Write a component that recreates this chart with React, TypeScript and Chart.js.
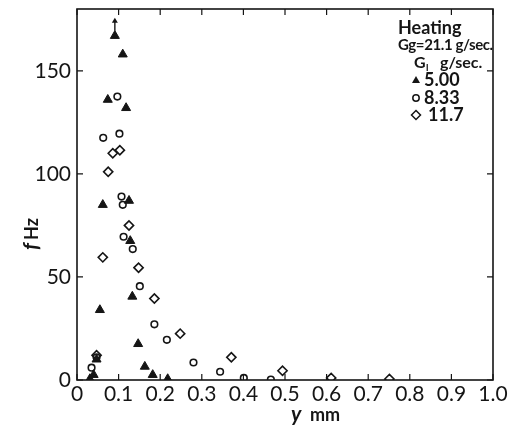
import React, { useEffect, useRef } from "react";
import { Chart, registerables } from "chart.js";

Chart.register(...registerables);

// Axis ticks
const xTicks = [0, 0.1, 0.2, 0.3, 0.4, 0.5, 0.6, 0.7, 0.8, 0.9, 1.0];
const xTickLabels = ["0", "0.1", "0.2", "0.3", "0.4", "0.5", "0.6", "0.7", "0.8", "0.9", "1.0"];
const yTicks = [0, 50, 100, 150];

// G_l = 5.00 g/sec (filled triangles)
const tri_y = [0.031, 0.040, 0.047, 0.055, 0.062, 0.074, 0.091, 0.110, 0.118, 0.125, 0.128, 0.133, 0.147, 0.163, 0.182, 0.218];
const tri_f = [0.5, 2.5, 10, 34, 85, 136, 167, 158, 132, 87, 67.5, 40.5, 17.5, 6.5, 2.5, 0.5];
const arrowIndex = 6; // point with the "greater than" arrow

// G_l = 8.33 g/sec (open circles)
const circ_y = [0.035, 0.047, 0.063, 0.097, 0.102, 0.107, 0.110, 0.112, 0.134, 0.151, 0.186, 0.216, 0.280, 0.344, 0.401, 0.466];
const circ_f = [6, 11, 117.5, 137.5, 119.5, 89, 85, 69.5, 63.5, 45.5, 27, 19.5, 8.5, 4, 1, 0.2];

// G_l = 11.7 g/sec (open diamonds)
const dia_y = [0.047, 0.062, 0.075, 0.086, 0.103, 0.125, 0.148, 0.186, 0.248, 0.371, 0.494, 0.611, 0.751];
const dia_f = [12, 59.5, 101, 110, 111.5, 75, 54.5, 39.5, 22.5, 11, 4.5, 1, 0.5];

const legendHeader = ["Heating", "Gg=21.1 g/sec."];
const legendSub = "g/sec.";
const legendLabels = ["5.00", "8.33", "11.7"];

const INK = "#151515";
const FONT = "Lato, 'DejaVu Sans', sans-serif";

const pts = (xs: number[], ys: number[]) => xs.map((x, i) => ({ x, y: ys[i] }));

const decorPlugin = {
  id: "decor",
  afterDraw(chart: any) {
    const { ctx, chartArea } = chart;
    const { left, right, top, bottom } = chartArea;
    const xs = chart.scales.x;
    const ys = chart.scales.y;
    ctx.save();
    ctx.strokeStyle = INK;
    ctx.fillStyle = INK;
    ctx.lineWidth = 1.6;
    ctx.strokeRect(left, top, right - left, bottom - top);
    ctx.lineWidth = 1.2;
    const tl = 6;
    xTicks.forEach((v) => {
      const px = xs.getPixelForValue(v);
      ctx.beginPath();
      ctx.moveTo(px, bottom);
      ctx.lineTo(px, bottom - tl);
      ctx.moveTo(px, top);
      ctx.lineTo(px, top + tl);
      ctx.stroke();
    });
    yTicks.forEach((v) => {
      const py = ys.getPixelForValue(v);
      ctx.beginPath();
      ctx.moveTo(left, py);
      ctx.lineTo(left + tl, py);
      ctx.moveTo(right, py);
      ctx.lineTo(right - tl, py);
      ctx.stroke();
    });

    // arrow above the top triangle
    const meta = chart.getDatasetMeta(0);
    const p = meta.data[arrowIndex];
    if (p) {
      const ax = p.x;
      const ay0 = p.y - 5;
      const ay1 = p.y - 15;
      ctx.lineWidth = 1.4;
      ctx.beginPath();
      ctx.moveTo(ax, ay0);
      ctx.lineTo(ax, ay1);
      ctx.stroke();
      ctx.beginPath();
      ctx.moveTo(ax, ay1 - 3);
      ctx.lineTo(ax - 3, ay1 + 2);
      ctx.lineTo(ax + 3, ay1 + 2);
      ctx.closePath();
      ctx.fill();
    }

    // legend
    const lx = right - 95;
    ctx.textBaseline = "middle";
    ctx.textAlign = "left";
    ctx.font = `bold 18px ${FONT}`;
    ctx.fillText(legendHeader[0], lx, top + 19);
    ctx.font = `bold 15px ${FONT}`;
    (ctx as any).letterSpacing = "-0.4px";
    ctx.fillText(legendHeader[1], lx, top + 36);
    (ctx as any).letterSpacing = "0px";
    // G_l g/sec.
    ctx.font = `bold 16px ${FONT}`;
    ctx.fillText("G", lx + 16, top + 54);
    ctx.font = `bold 10px ${FONT}`;
    ctx.fillText("l", lx + 28, top + 59);
    ctx.font = `bold 16px ${FONT}`;
    ctx.fillText(legendSub, lx + 42, top + 54);
    // entries
    const sx = lx + 18;
    const tx = lx + 26;
    const rows = [top + 71, top + 89, top + 106];
    ctx.font = `bold 18px ${FONT}`;
    // triangle
    ctx.beginPath();
    ctx.moveTo(sx, rows[0] - 4);
    ctx.lineTo(sx - 4, rows[0] + 3);
    ctx.lineTo(sx + 4, rows[0] + 3);
    ctx.closePath();
    ctx.fill();
    ctx.fillText(legendLabels[0], tx, rows[0]);
    // circle
    ctx.lineWidth = 1.5;
    ctx.beginPath();
    ctx.arc(sx, rows[1], 3.2, 0, Math.PI * 2);
    ctx.stroke();
    ctx.fillText(legendLabels[1], tx, rows[1]);
    // diamond
    ctx.beginPath();
    ctx.moveTo(sx, rows[2] - 4.5);
    ctx.lineTo(sx + 4.5, rows[2]);
    ctx.lineTo(sx, rows[2] + 4.5);
    ctx.lineTo(sx - 4.5, rows[2]);
    ctx.closePath();
    ctx.stroke();
    ctx.fillText(legendLabels[2], tx + 4, rows[2]);

    // axis titles
    ctx.textBaseline = "alphabetic";
    ctx.font = `italic bold 21px ${FONT}`;
    ctx.fillText("y", 291, 421);
    ctx.font = `bold 18px ${FONT}`;
    ctx.fillText("mm", 310, 421);

    ctx.save();
    ctx.translate(38, 250);
    ctx.rotate(-Math.PI / 2);
    ctx.font = `italic bold 21px ${FONT}`;
    ctx.fillText("f", 0, 0);
    ctx.font = `bold 18px ${FONT}`;
    ctx.fillText("Hz", 10, 0);
    ctx.restore();

    ctx.restore();
  },
};

export default function App() {
  const ref = useRef<HTMLCanvasElement>(null);
  useEffect(() => {
    if (!ref.current) return;
    const chart = new Chart(ref.current, {
      type: "scatter",
      data: {
        datasets: [
          {
            label: "5.00",
            data: pts(tri_y, tri_f),
            pointStyle: "triangle",
            pointRadius: 5.2,
            backgroundColor: INK,
            borderColor: INK,
            borderWidth: 1,
          },
          {
            label: "8.33",
            data: pts(circ_y, circ_f),
            pointStyle: "circle",
            pointRadius: 3.3,
            backgroundColor: "rgba(255,255,255,0)",
            borderColor: INK,
            borderWidth: 1.6,
          },
          {
            label: "11.7",
            data: pts(dia_y, dia_f),
            pointStyle: "rectRot",
            pointRadius: 4.6,
            backgroundColor: "rgba(255,255,255,0)",
            borderColor: INK,
            borderWidth: 1.6,
          },
        ],
      },
      options: {
        animation: false,
        responsive: true,
        maintainAspectRatio: false,
        layout: { padding: { top: 9, right: 18, bottom: 0, left: 0 } },
        plugins: { legend: { display: false }, tooltip: { enabled: false } },
        scales: {
          x: {
            type: "linear",
            min: 0,
            max: 1,
            grid: { display: false, drawTicks: false },
            border: { display: false },
            afterBuildTicks: (s: any) => {
              s.ticks = xTicks.map((v) => ({ value: v }));
            },
            afterFit: (s: any) => {
              s.height = 49;
              s.paddingLeft = 0;
              s.paddingRight = 0;
            },
            ticks: {
              color: INK,
              font: { family: FONT, size: 21 },
              padding: 2,
              maxRotation: 0,
              autoSkip: false,
              callback: (v: any) => {
                const i = xTicks.findIndex((t) => Math.abs(t - Number(v)) < 1e-6);
                return i >= 0 ? xTickLabels[i] : "";
              },
            },
          },
          y: {
            type: "linear",
            min: 0,
            max: 180,
            grid: { display: false, drawTicks: false },
            border: { display: false },
            afterBuildTicks: (s: any) => {
              s.ticks = yTicks.map((v) => ({ value: v }));
            },
            afterFit: (s: any) => {
              s.width = 77;
              s.paddingTop = 0;
              s.paddingBottom = 0;
            },
            ticks: {
              color: INK,
              font: { family: FONT, size: 21 },
              padding: 6,
            },
          },
        },
      },
      plugins: [decorPlugin],
    });
    return () => chart.destroy();
  }, []);
  return (
    <div style={{ position: "fixed", left: 0, top: 0, width: 511, height: 429, background: "#fff" }}>
      <canvas ref={ref} />
    </div>
  );
}
